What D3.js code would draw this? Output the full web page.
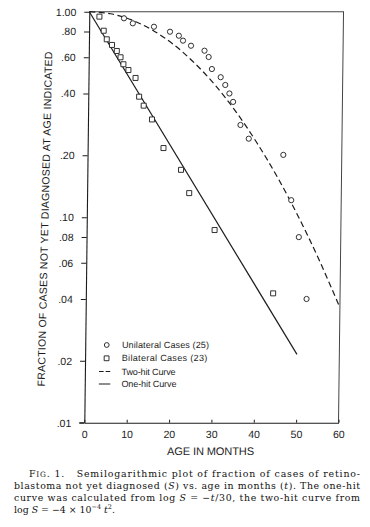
<!DOCTYPE html>
<html><head><meta charset="utf-8">
<script src="https://cdn.jsdelivr.net/npm/d3@7"></script>
<style>body{margin:0;background:#fff}svg{display:block}</style>
</head><body><svg id="c" width="370" height="527"></svg>
<script>
// ---- data ----
const unilateralT = [8.2,10.3,15.3,19.1,21.2,22.2,24.1,27.3,28.3,29.1,31.2,32.3,33.3,34.2,36.0,38.0,46.2,48.2,50.1,52.1];
const unilateralS = [0.929,0.878,0.845,0.799,0.764,0.723,0.683,0.646,0.602,0.526,0.480,0.440,0.400,0.364,0.281,0.241,0.201,0.121,0.080,0.040];
const bilateralT = [2.4,3.45,4.2,5.45,6.6,7.5,8.2,9.4,11.1,12.0,13.1,15.1,17.9,22.1,24.1,30.2,44.2];
const bilateralS = [0.946,0.808,0.734,0.689,0.644,0.600,0.555,0.520,0.476,0.386,0.349,0.299,0.217,0.170,0.131,0.0866,0.0426];
const twoHitT = [0,5,10,15,20,25,30,35,40,45,50,55,60];
const twoHitS = [1,0.977,0.912,0.813,0.692,0.562,0.437,0.324,0.229,0.155,0.100,0.0617,0.0363];
const oneHitT = [0,50];
const oneHitS = [1,0.0215];
const yTickValues = [1,0.8,0.6,0.4,0.2,0.1,0.08,0.06,0.04,0.02,0.01];
const yTickLabels = ["1.00",".80",".60",".40",".20",".10",".08",".06",".04",".02",".01"];
const xTickValues = [0,10,20,30,40,50,60];
const legendLabels = ["Unilateral Cases (25)","Bilateral Cases (23)","Two-hit Curve","One-hit Curve"];
const xTitle = "AGE IN MONTHS";
const yTitle = "FRACTION OF CASES NOT YET DIAGNOSED AT AGE INDICATED";

// ---- layout ----
const L = 84.3, R = 338.5, T = 11.7, B = 422.7;
const ink = "#1c1c1c";
const x = d3.scaleLinear().domain([0,60]).range([L,R]);
const y = d3.scaleLog().domain([0.01,1]).range([B,T]);
const svg = d3.select("#c");
const g = svg.append("g").attr("transform", `translate(0,${B}) skewX(-0.7) translate(0,${-B})`);

// frame (top and right)
g.append("path").attr("d", `M${L},${T}H${R}V${B}`).attr("fill","none").attr("stroke","#444").attr("stroke-width",1);

// axes
const yAxis = d3.axisLeft(y).tickValues(yTickValues).tickFormat((d,i)=>yTickLabels[i]).tickSize(5).tickSizeOuter(0).tickPadding(8);
const ya = g.append("g").attr("transform", `translate(${L},0)`).call(yAxis);
const xAxis = d3.axisBottom(x).tickValues(xTickValues).tickSize(-3).tickSizeOuter(0).tickPadding(8);
const xa = g.append("g").attr("transform", `translate(0,${B})`).call(xAxis);
[ya,xa].forEach(a=>{
  a.select(".domain").attr("stroke",ink).attr("stroke-width",1.1);
  a.selectAll(".tick line").attr("stroke",ink).attr("stroke-width",1);
  a.selectAll(".tick text").attr("fill",ink).attr("font-family","Liberation Sans, Arial, sans-serif").attr("font-size",10.5);
});
g.append("line").attr("x1",L-5).attr("x2",L).attr("y1",B).attr("y2",B).attr("stroke",ink);

// axis titles
g.append("text").attr("x", (L+R)/2 - 0.5).attr("y", 455).attr("text-anchor","middle")
  .attr("font-family","Liberation Sans, Arial, sans-serif").attr("font-size",11).attr("fill",ink)
  .attr("textLength",87).attr("lengthAdjust","spacing").text(xTitle);
g.append("text").attr("transform","translate(42,219) rotate(-89.4)").attr("text-anchor","middle")
  .attr("dominant-baseline","central")
  .attr("font-family","Liberation Sans, Arial, sans-serif").attr("font-size",10.5).attr("fill",ink)
  .attr("textLength",335).attr("lengthAdjust","spacing").text(yTitle);

// curves
const line = d3.line().x(d=>x(d[0])).y(d=>y(d[1]));
g.append("path").datum(twoHitT.map((t,i)=>[t,twoHitS[i]]))
  .attr("d", line.curve(d3.curveNatural)).attr("fill","none").attr("stroke",ink).attr("stroke-width",1.2)
  .attr("stroke-dasharray","6,3.5");
g.append("path").datum(oneHitT.map((t,i)=>[t,oneHitS[i]]))
  .attr("d", d3.line().x(d=>x(d[0])).y(d=>y(d[1]))).attr("fill","none").attr("stroke",ink).attr("stroke-width",1.2);

// markers
g.selectAll("circle.u").data(unilateralT.map((t,i)=>[t,unilateralS[i]])).join("circle").attr("class","u")
  .attr("cx",d=>x(d[0])).attr("cy",d=>y(d[1])).attr("r",2.6)
  .attr("fill","#fff").attr("stroke",ink).attr("stroke-width",0.9);
const sq = 5;
g.selectAll("rect.b").data(bilateralT.map((t,i)=>[t,bilateralS[i]])).join("rect").attr("class","b")
  .attr("x",d=>x(d[0])-sq/2).attr("y",d=>y(d[1])-sq/2).attr("width",sq).attr("height",sq)
  .attr("fill","#fff").attr("stroke",ink).attr("stroke-width",0.9);

// legend
const lg = g.append("g");
const ly = [345, 358.3, 371.5, 384];
const lx = 105.8, tx = 121;
lg.append("circle").attr("cx",lx).attr("cy",ly[0]).attr("r",2.4).attr("fill","#fff").attr("stroke",ink).attr("stroke-width",0.9);
lg.append("rect").attr("x",lx-2.4).attr("y",ly[1]-2.4).attr("width",4.8).attr("height",4.8).attr("fill","#fff").attr("stroke",ink).attr("stroke-width",0.9);
lg.append("line").attr("x1",98.4).attr("x2",109.6).attr("y1",ly[2]).attr("y2",ly[2]).attr("stroke",ink).attr("stroke-width",1.1).attr("stroke-dasharray","4.6,2");
lg.append("line").attr("x1",98.4).attr("x2",109.8).attr("y1",ly[3]).attr("y2",ly[3]).attr("stroke",ink).attr("stroke-width",1.1);
const lw = [87,85.5,54,55];
legendLabels.forEach((s,i)=>{
  lg.append("text").attr("x",tx).attr("y",ly[i]+3.2).attr("font-family","Liberation Sans, Arial, sans-serif")
    .attr("font-size",9).attr("fill",ink).attr("textLength",lw[i]).attr("lengthAdjust","spacing").text(s);
});

// caption
const cf = "DejaVu Serif, serif";
const cap = svg.append("g").attr("font-family",cf).attr("font-size",9.4).attr("fill","#111");
function addLine(xp, yp, parts, len){
  const t = cap.append("text").attr("x",xp).attr("y",yp);
  if(len) t.attr("textLength",len).attr("lengthAdjust","spacing");
  parts.forEach(p=>{
    const ts = t.append("tspan").text(p.s);
    if(p.i) ts.attr("font-style","italic");
    if(p.fs) ts.attr("font-size",p.fs);
    if(p.dy) ts.attr("dy",p.dy);
  });
}
addLine(29, 476.5, [{s:"F"},{s:"IG",fs:7.4},{s:". 1.\u00a0\u00a0 Semilogarithmic plot of fraction of cases of retino-"}], 331);
addLine(14, 488.5, [{s:"blastoma not yet diagnosed ("},{s:"S",i:1},{s:") vs. age in months ("},{s:"t",i:1},{s:"). The one-hit"}], 346);
addLine(14, 500.5, [{s:"curve was calculated from log "},{s:"S",i:1},{s:" = −"},{s:"t",i:1},{s:"/30, the two-hit curve from"}], 346);
addLine(14, 512.5, [{s:"log "},{s:"S",i:1},{s:" = −4 × 10"},{s:"−4",fs:6.5,dy:-3.5},{s:" "},{s:"t",i:1,dy:3.5},{s:"2",fs:6.5,dy:-3.5},{s:".",dy:3.5}], null);
</script></body></html>
